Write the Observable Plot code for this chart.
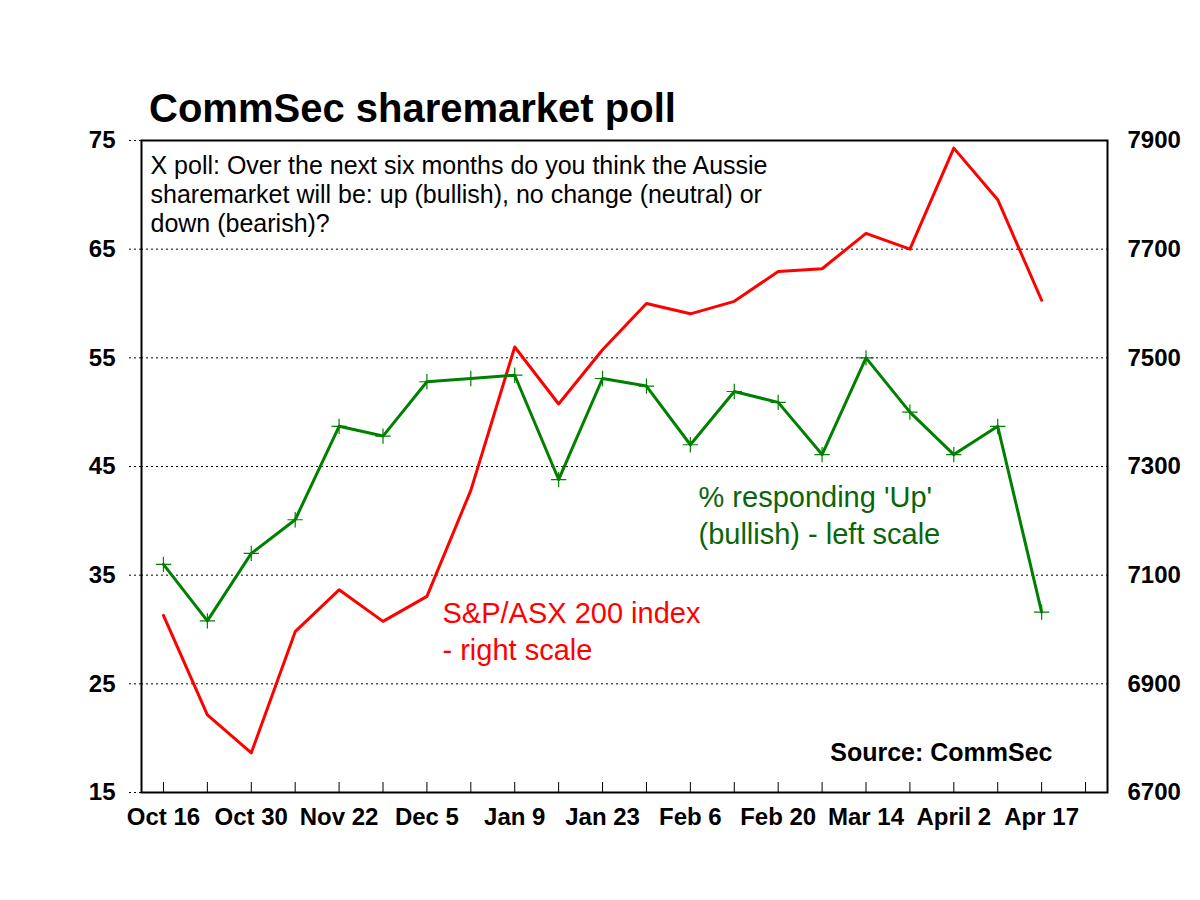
<!DOCTYPE html>
<html><head><meta charset="utf-8">
<script src="https://cdn.jsdelivr.net/npm/d3@7"></script>
<script src="https://cdn.jsdelivr.net/npm/@observablehq/plot@0.6"></script>
<style>
body{margin:0;background:#fff;font-family:"Liberation Sans",Arial,sans-serif;}
#title{height:110px;box-sizing:border-box;padding:86px 0 0 149px;font-weight:bold;font-size:40px;line-height:44px;color:#000;margin:0;white-space:nowrap;}
</style></head><body>
<div id="title">CommSec sharemarket poll</div>
<div id="chart"></div>
<script>
// x tick labels (every second poll is labelled)
const tickLabels = ["Oct 16","Oct 30","Nov 22","Dec 5","Jan 9","Jan 23","Feb 6","Feb 20","Mar 14","April 2","Apr 17"];
// % responding 'Up' (left scale)
const bullishPct = [36.0,30.8,37.0,40.1,48.7,47.8,52.8,53.1,53.4,43.8,53.1,52.4,47.0,51.9,50.9,46.1,55.0,50.0,46.1,48.7,31.6];
// S&P/ASX 200 index (right scale)
const asx200 = [7026,6843,6773,6996,7073,7015,7061,7256,7520,7415,7515,7600,7581,7604,7659,7664,7729,7700,7886,7791,7606];
const leftTicks = [15,25,35,45,55,65,75];
const rightTicks = [6700,6900,7100,7300,7500,7700,7900];
const slotCount = 22;

const slots = d3.range(slotCount);
const labelSlots = slots.filter(i => i % 2 === 0 && i / 2 < tickLabels.length);
const toLeft = v => leftTicks[0] + (v - rightTicks[0]) * (leftTicks[6] - leftTicks[0]) / (rightTicks[6] - rightTicks[0]);
const toRight = d => String(Math.round(rightTicks[0] + (d - leftTicks[0]) * (rightTicks[6] - rightTicks[0]) / (leftTicks[6] - leftTicks[0])));

const bull = bullishPct.map((v, i) => ({i, v}));
const asx = asx200.map((v, i) => ({i, v: toLeft(v)}));

const font = "Liberation Sans, Arial, sans-serif";
const green = "#008000", greenText = "#0a650a", red = "#ff0000";

const chart = Plot.plot({
  width: 1200, height: 790,
  marginTop: 30, marginBottom: 108, marginLeft: 141, marginRight: 93,
  style: {fontFamily: font, background: "#fff", color: "#000"},
  x: {type: "linear", domain: [-0.5, slotCount - 0.5], label: null},
  y: {domain: [leftTicks[0], leftTicks[6]], label: null},
  marks: [
    Plot.gridY(leftTicks.slice(1, -1), {stroke: "#000", strokeOpacity: 1, strokeWidth: 1, strokeDasharray: "2,3"}),
    Plot.axisY({ticks: leftTicks, label: null, tickSize: 14, tickPadding: 12, fontSize: 24, fontWeight: "bold", strokeDasharray: "2,3", stroke: "#000", tickFormat: d => String(d)}),
    Plot.axisY({anchor: "right", label: null, ticks: rightTicks.map(toLeft), tickSize: 0, tickPadding: 20, fontSize: 24, fontWeight: "bold", tickFormat: toRight}),
    Plot.axisX({ticks: slots, label: null, tickSize: -10, tickFormat: () => "", stroke: "#000"}),
    Plot.axisX({ticks: labelSlots, label: null, tickSize: 0, tickPadding: 15, fontSize: 24, fontWeight: "bold", tickFormat: i => tickLabels[i / 2]}),
    Plot.frame({stroke: "#000", strokeWidth: 2}),
    Plot.line(asx, {x: "i", y: "v", stroke: red, strokeWidth: 3}),
    Plot.line(bull, {x: "i", y: "v", stroke: green, strokeWidth: 3}),
    Plot.dot(bull, {x: "i", y: "v", symbol: "plus", r: 5, stroke: green, strokeWidth: 1.2}),
    Plot.text(["X poll: Over the next six months do you think the Aussie\nsharemarket will be: up (bullish), no change (neutral) or\ndown (bearish)?"],
      {frameAnchor: "top-left", dx: 9, dy: 13, textAnchor: "start", lineAnchor: "top", fontSize: 25, lineHeight: 1.16, fill: "#000"}),
    Plot.text(["% responding 'Up'\n(bullish) - left scale"],
      {frameAnchor: "top-left", dx: 557, dy: 340, textAnchor: "start", lineAnchor: "top", fontSize: 29, lineHeight: 1.28, fill: greenText}),
    Plot.text(["S&P/ASX 200 index\n- right scale"],
      {frameAnchor: "top-left", dx: 301, dy: 456, textAnchor: "start", lineAnchor: "top", fontSize: 29, lineHeight: 1.28, fill: red}),
    Plot.text(["Source: CommSec"],
      {frameAnchor: "top-right", dx: -55, dy: 603, textAnchor: "end", lineAnchor: "top", fontSize: 25, fontWeight: "bold", fill: "#000"})
  ]
});
document.getElementById("chart").appendChild(chart);
</script>
</body></html>
